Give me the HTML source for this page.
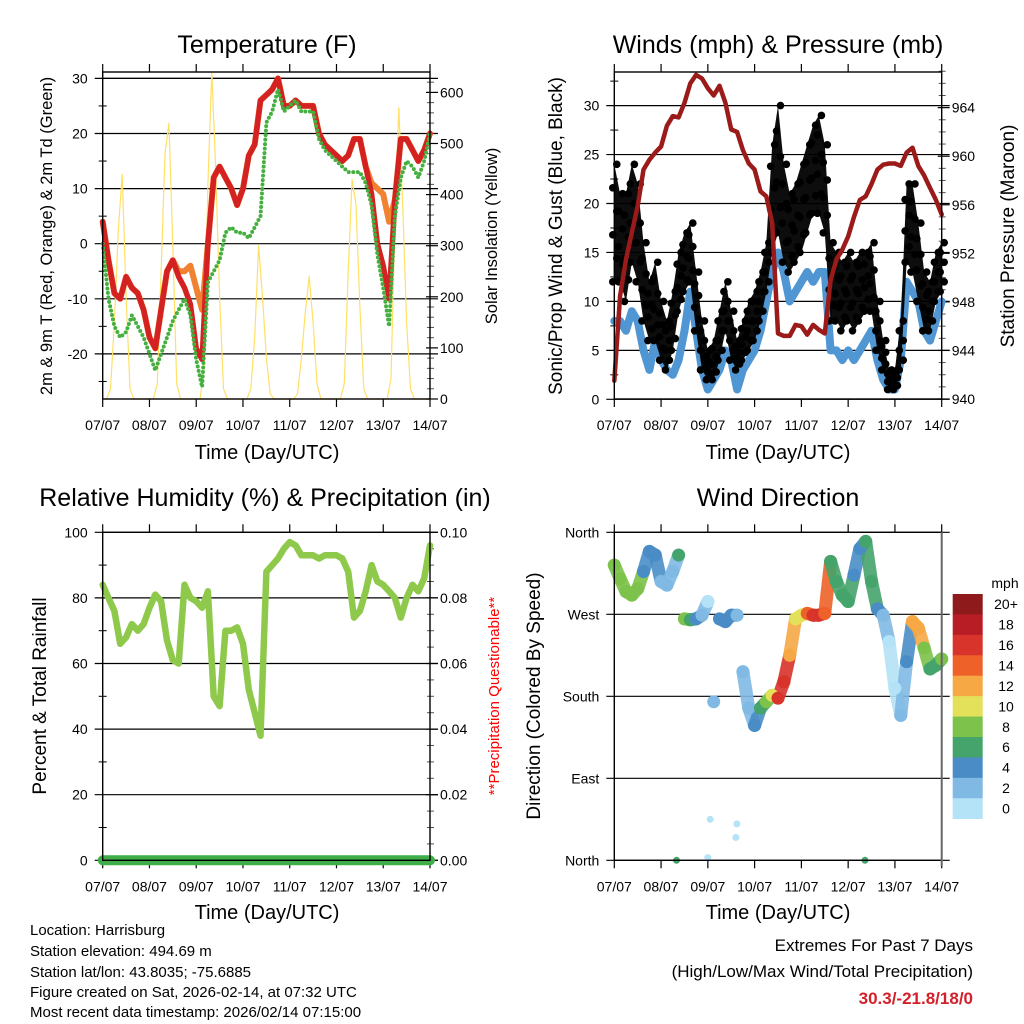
<!DOCTYPE html>
<html><head><meta charset="utf-8">
<style>
html,body{margin:0;padding:0;background:#fff;}
svg{display:block;font-family:"Liberation Sans",sans-serif;}
</style></head>
<body>
<svg id="chart" width="1024" height="1024" viewBox="0 0 1024 1024" xmlns="http://www.w3.org/2000/svg">
<rect x="0" y="0" width="1024" height="1024" fill="#fff"/>
<text x="267" y="53" font-size="25" text-anchor="middle">Temperature (F)</text>
<text x="778" y="53" font-size="25" text-anchor="middle">Winds (mph) &amp; Pressure (mb)</text>
<text x="265" y="506" font-size="25" text-anchor="middle">Relative Humidity (%) &amp; Precipitation (in)</text>
<text x="778" y="506" font-size="25" text-anchor="middle">Wind Direction</text>
<text x="267" y="459" font-size="20" text-anchor="middle">Time (Day/UTC)</text>
<text x="778" y="459" font-size="20" text-anchor="middle">Time (Day/UTC)</text>
<text x="267" y="919" font-size="20" text-anchor="middle">Time (Day/UTC)</text>
<text x="778" y="919" font-size="20" text-anchor="middle">Time (Day/UTC)</text>
<text transform="translate(52,236) rotate(-90)" font-size="16.5" text-anchor="middle">2m &amp; 9m T (Red, Orange) &amp; 2m Td (Green)</text>
<text transform="translate(497,236) rotate(-90)" font-size="16.5" text-anchor="middle">Solar Insolation (Yellow)</text>
<text transform="translate(562,236) rotate(-90)" font-size="19" text-anchor="middle">Sonic/Prop Wind &amp; Gust (Blue, Black)</text>
<text transform="translate(1014,236) rotate(-90)" font-size="19" text-anchor="middle">Station Pressure (Maroon)</text>
<text transform="translate(46,696) rotate(-90)" font-size="19" text-anchor="middle">Percent &amp; Total Rainfall</text>
<text transform="translate(499,696) rotate(-90)" font-size="15" fill="#ff0000" text-anchor="middle">**Precipitation Questionable**</text>
<text transform="translate(540,696) rotate(-90)" font-size="19" text-anchor="middle">Direction (Colored By Speed)</text>
<g font-size="15">
<text x="30" y="935">Location: Harrisburg</text>
<text x="30" y="956">Station elevation: 494.69 m</text>
<text x="30" y="977">Station lat/lon: 43.8035; -75.6885</text>
<text x="30" y="997">Figure created on Sat, 2026-02-14, at 07:32 UTC</text>
<text x="30" y="1017">Most recent data timestamp: 2026/02/14 07:15:00</text>
</g>
<g>
<text x="973" y="951" font-size="17" text-anchor="end">Extremes For Past 7 Days</text>
<text x="973" y="977" font-size="17" text-anchor="end">(High/Low/Max Wind/Total Precipitation)</text>
<text x="973" y="1004" font-size="17" font-weight="bold" fill="#d4202a" text-anchor="end">30.3/-21.8/18/0</text>
</g>
<g id="layer"></g>
</svg>
<script>
// ---- data (3-hour samples, day 0 = 07/07) ----
const dayLabels = ["07/07","08/07","09/07","10/07","11/07","12/07","13/07","14/07"];
const temp2m = [4,-3,-9,-10,-6,-8,-9,-12,-17,-19,-12,-5,-3,-6,-8,-11,-19,-21,0,12,14,12,10,7,10,16,18,26,27,28,30,25,25,26,25,25,25,20,18,17,16,15,16,19,19,14,9,0,-4,-10,8,19,19,17,15,17,20];
const temp9m = [4,-3,-9,-10,-6,-8,-9,-12,-17,-19,-12,-5,-3,-5,-5,-4,-8,-12,0,12,14,12,10,7,10,16,18,26,27,28,30,25,25,26,25,25,25,20,18,17,16,15,16,19,19,14,11,10,9,4,8,19,19,17,15,17,20];
const dewpoint = [0,-10,-15,-17,-16,-13,-15,-17,-20,-23,-20,-17,-14,-12,-10,-13,-21,-26,-7,-5,-3,2,3,2,2,1,3,5,22,24,28,24,25,26,24,24,24,19,17,16,15,14,13,13,13,11,7,-2,-8,-15,5,12,15,14,12,15,20];
const solar = [0,0,20,150,330,440,200,20,0,0,0,0, 0,0,30,250,480,540,300,30,0,0,0,0, 0,0,60,420,640,450,200,20,0,0,0,0, 0,0,20,120,300,200,80,10,0,0,0,0, 0,0,10,80,170,240,150,30,0,0,0,0, 0,0,30,250,430,380,180,20,0,0,0,0, 0,0,40,350,570,380,150,20,0,0,0,0, 0];
const windMean = [8,8,7,9,8,5,3,6,4,3,2.5,4,7,11,7,3,1,2,3,5,4,1,3,4,5,7,10,13,15,13,10,11,12,13,12,13,13,5,5,4,5,4,5,6,7,4,2,1,1,4,12,11,10,7,6,8,10];
const gustHi = [24,21,21,24,22,16,12,14,10,8,11,15,17,18,13,8,5,6,9,12,9,6,8,10,11,13,16,26,30,24,21,22,24,26,28,29,26,16,15,14,15,14,15,15,16,10,6,3,3,8,22,22,18,13,12,15,16];
const gustLo = [12,12,10,14,12,8,6,6,4,3,5,9,11,12,7,3,2,2,4,7,4,3,4,5,6,8,11,15,17,14,13,14,15,17,19,19,17,8,8,7,8,7,8,9,9,5,3,1,1,3,14,13,10,7,7,10,11];
const pressure = [941.5,948.5,951.5,953.7,955.9,958.9,959.7,960.3,960.8,962.5,963.3,963.2,964.4,966,966.7,966.4,965.6,965,965.8,964.4,962.2,962,960.5,959.4,958.9,957.1,956.7,954.5,945.4,945.2,945.2,946.1,946,945.3,946.1,945.7,945.4,949.8,951.5,952.3,953.4,955,956.4,956.7,957.7,958.9,959.3,959.4,959.4,959.2,960.3,960.7,959.2,958.4,957.4,956.4,955.2];
const humidity = [84,80,76,66,68,72,70,72,77,81,79,67,61,60,84,80,79,77,82,50,47,70,70,71,66,52,45,38,88,90,92,95,97,96,93,93,93,92,93,93,93,92,88,74,76,82,90,85,84,82,80,74,80,84,82,86,96];
const precip = [0,0,0,0,0,0,0,0];
const windDir = [324,309,295,291,298,317,339,335,306,302,317,335,265,264,265,269,284,174,265,262,269,269,207,167,148,167,174,181,178,196,225,265,269,271,269,269,271,328,306,291,284,313,342,350,306,276,269,240,189,159,218,262,255,233,210,214,221];
const dirSpeed = [8,8,9,9,8,4,4,4,2,2,2,6,8,6,4,2,1,2,4,5,4,2,3,3,4,6,8,10,16,16,13,11,10,15,17,17,15,7,6,6,6,5,5,7,7,4,3,1,1,2,4,12,12,8,6,7,9];
const outlierDay = [2.0,2.62,1.33,5.36,2.05,2.6];
const outlierDir = [3,40,0,0,45,25];
const outlierSpd = [0,0,6,6,0,1];
const speedTicks = ["20+","18","16","14","12","10","8","6","4","2","0"];
const speedColors = ["#8e1a1c","#b81d25","#d8342b","#ee6229","#f6a845","#e3e05a","#7dc24a","#45a46b","#4a8dc6","#80bae4","#b4e2f7"];

// ---- helpers ----
const NS = "http://www.w3.org/2000/svg";
const layer = document.getElementById("layer");
function mk(tag, attrs, parent) {
  const el = document.createElementNS(NS, tag);
  for (const k in attrs) el.setAttribute(k, attrs[k]);
  (parent || layer).appendChild(el);
  return el;
}
const STEP = 0.125;
function dayOf(i) { return i * STEP; }
const P1 = {x0:102.7, x1:430, y0:72, y1:399};
const P2 = {x0:614.3, x1:941.7, y0:72, y1:399};
const P3 = {x0:102.7, x1:430, y0:532.3, y1:860.3};
const P4 = {x0:614.3, x1:941.7, y0:532.3, y1:860.3};
function xs(P) { return d => P.x0 + (P.x1 - P.x0) * d / 7; }
const x1s = xs(P1), x2s = xs(P2), x3s = xs(P3), x4s = xs(P4);
const yTemp = t => 243.7 - t * 5.51;
const ySolar = v => 399 - v * 0.511;
const yWind = v => 399.3 - v * 9.79;
const yPres = p => 399 - (p - 940) * 12.14;
const yRH = v => 860.3 - v * 3.28;
const yPrecip = v => 860.3 - v * 3280;
const yDir = d => 532.3 + (360 - d) * 0.9111;
function speedColor(s) { let b = Math.floor(s / 2); if (b > 10) b = 10; if (b < 0) b = 0; return speedColors[10 - b]; }

function gridAndAxes(P, name, leftVals, leftFmt, yL, rightVals, rightFmt, yR, leftMinor, rightMinor) {
  const g = mk("g", {});
  
  
  leftVals.forEach(v => {
    const y = yL(v);
    const ln = mk("line", {x1:P.x0-8, x2:P.x1+8, y1:y, y2:y, stroke:"#000", "stroke-width":1.2}, g);
    
    
    const t = mk("text", {x:P.x0-15, y:y+5, "font-size":14, "text-anchor":"end"}, g);
    
    
    t.textContent = leftFmt(v);
  });
  leftMinor.forEach(v => {
    const y = yL(v);
    const ln = mk("line", {x1:P.x0-4, x2:P.x0+4, y1:y, y2:y, stroke:"#000", "stroke-width":1}, g);
    
    
  });
  rightVals.forEach(v => {
    const y = yR(v);
    const ln = mk("line", {x1:P.x1-4, x2:P.x1+8, y1:y, y2:y, stroke:"#000", "stroke-width":1.2}, g);
    
    
    const t = mk("text", {x:P.x1+10, y:y+5, "font-size":14}, g);
    
    
    t.textContent = rightFmt(v);
  });
  rightMinor.forEach(v => {
    const y = yR(v);
    const ln = mk("line", {x1:P.x1-3, x2:P.x1+4, y1:y, y2:y, stroke:"#555", "stroke-width":1}, g);
    
    
  });
  const xsP = xs(P);
  dayLabels.forEach((lab, i) => {
    const x = xsP(i);
    const tb = mk("line", {x1:x, x2:x, y1:P.y1, y2:P.y1+8, stroke:"#000", "stroke-width":1.2}, g);
    
    
    const tt = mk("line", {x1:x, x2:x, y1:P.y0-8, y2:P.y0, stroke:"#000", "stroke-width":1.2}, g);
    
    
    const t = mk("text", {x:x, y:P.y1+31, "font-size":14, "text-anchor":"middle"}, g);
    
    
    t.textContent = lab;
  });
  const r = mk("rect", {x:P.x0, y:P.y0, width:P.x1-P.x0, height:P.y1-P.y0, fill:"none", stroke:"#000", "stroke-width":1.4});
  
  
  return r;
}
function polyline(xf, yf, vals, attrs, name, days) {
  const pts = vals.map((v, i) => xf(days ? days[i] : dayOf(i)).toFixed(1) + "," + yf(v).toFixed(1)).join(" ");
  const p = mk("polyline", Object.assign({points:pts, fill:"none", "stroke-linejoin":"round", "stroke-linecap":"round"}, attrs));
  
  
  return p;
}

// ---- Panel 1: temperature ----
const frame1 = gridAndAxes(P1, "temperature", [-20,-10,0,10,20,30], v=>String(v), yTemp,
  [0,100,200,300,400,500,600], v=>String(v), ySolar, [-25,-15,-5,5,15,25], [20,40,60,80,120,140,160,180,220,240,260,280,320,340,360,380,420,440,460,480,520,540,560,580,620]);
const topLine = mk("line", {x1:P1.x0, x2:P1.x1, y1:78.4, y2:78.4, stroke:"#000", "stroke-width":1.2});


const solarDays = solar.map((v, i) => i / 12);
polyline(x1s, ySolar, solar, {stroke:"#ffe066", "stroke-width":1.2}, "solar-insolation-line", solarDays);
polyline(x1s, yTemp, temp9m, {stroke:"#f08232", "stroke-width":6}, "temp-9m-line");
polyline(x1s, yTemp, temp2m, {stroke:"#d42222", "stroke-width":5.5}, "temp-2m-line");
polyline(x1s, yTemp, dewpoint, {stroke:"#45b03f", "stroke-width":4, "stroke-dasharray":"0 4.5"}, "dewpoint-line");
layer.appendChild(frame1);

// ---- Panel 2: winds & pressure ----
const frame2 = gridAndAxes(P2, "winds", [0,5,10,15,20,25,30], v=>String(v), yWind,
  [940,944,948,952,956,960,964], v=>String(v), yPres, [2.5,7.5,12.5,17.5,22.5,27.5,32.5], [941,942,943,945,946,947,949,950,951,953,954,955,957,958,959,961,962,963,965,966,967]);
polyline(x2s, yWind, windMean, {stroke:"#4f96d3", "stroke-width":8}, "mean-wind-line");
{
  const top = gustHi.map((v, i) => x2s(dayOf(i)).toFixed(1) + "," + yWind(v).toFixed(1));
  const bot = gustLo.map((v, i) => x2s(dayOf(i)).toFixed(1) + "," + yWind(v).toFixed(1)).reverse();
  const band = mk("polygon", {points: top.concat(bot).join(" "), fill:"#000", "fill-opacity":0.95, stroke:"none"});
  
  
}
gustHi.forEach((hi, i) => {
  const lo = gustLo[i];
  for (let k = 0; k <= 5; k++) {
    const v = lo + (hi - lo) * k / 5;
    const c = mk("circle", {cx:x2s(dayOf(i)) + ((k % 2) ? 2.5 : -1.5), cy:yWind(v), r:3.8, fill:"#000"});
    
    
  }
});
polyline(x2s, yPres, pressure, {stroke:"#9b1a1a", "stroke-width":4.5}, "pressure-line");
layer.appendChild(frame2);

// ---- Panel 3: humidity ----
const frame3 = gridAndAxes(P3, "humidity", [0,20,40,60,80,100], v=>String(v), yRH,
  [0,0.02,0.04,0.06,0.08,0.1], v=>v.toFixed(2), yPrecip, [10,30,50,70,90], [0.005,0.01,0.015,0.025,0.03,0.035,0.045,0.05,0.055,0.065,0.07,0.075,0.085,0.09,0.095]);
polyline(x3s, yRH, humidity, {stroke:"#8fc94c", "stroke-width":6.5}, "humidity-line");
const precipDays = precip.map((v, i) => i);
polyline(x3s, yPrecip, precip, {stroke:"#3fae48", "stroke-width":10}, "precipitation-line", precipDays);
layer.appendChild(frame3);

// ---- Panel 4: wind direction ----
const frame4 = gridAndAxes(P4, "direction", [360,270,180,90,0], v=>({360:"North",270:"West",180:"South",90:"East",0:"North"})[v], yDir,
  [], v=>"", yDir, [], []);
for (let i = 0; i < windDir.length - 1; i++) {
  if (Math.abs(windDir[i+1] - windDir[i]) > 60) continue;
  const s = mk("line", {x1:x4s(dayOf(i)), y1:yDir(windDir[i]), x2:x4s(dayOf(i+1)), y2:yDir(windDir[i+1]), stroke:speedColor(dirSpeed[i]), "stroke-width":13, "stroke-linecap":"round", opacity:0.9});
  
  
}
windDir.forEach((v, i) => {
  const c = mk("circle", {cx:x4s(dayOf(i)), cy:yDir(v), r:6.5, fill:speedColor(dirSpeed[i])});
  
  
});
outlierDir.forEach((v, i) => {
  const c = mk("circle", {cx:x4s(outlierDay[i]), cy:yDir(v), r:3.5, fill:speedColor(outlierSpd[i])});
  
  
});
layer.appendChild(frame4);
const edge4 = mk("line", {x1:P4.x1, x2:P4.x1, y1:P4.y0, y2:P4.y1+6, stroke:"#666", "stroke-width":2});



// ---- colorbar ----
const cbTitle = mk("text", {x:1005, y:588, "font-size":14, "text-anchor":"middle"});


cbTitle.textContent = "mph";
const cbH = (818.7 - 594) / speedTicks.length;
speedTicks.forEach((lab, i) => {
  const r = mk("rect", {x:952.7, y:594 + i*cbH, width:30, height:cbH+0.3, fill:speedColors[i]});
  
  
  const t = mk("text", {x:1006, y:594 + (i+0.5)*cbH + 5, "font-size":14, "text-anchor":"middle"});
  
  
  t.textContent = lab;
});
</script>
</body></html>
